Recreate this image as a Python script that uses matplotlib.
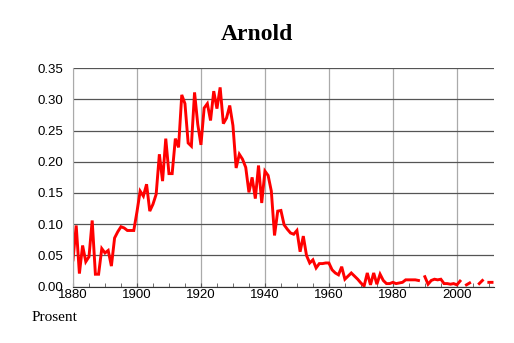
import numpy as np
import matplotlib.pyplot as plt
from matplotlib.ticker import MultipleLocator

plt.rcParams['font.family'] = ['Liberation Sans', 'DejaVu Sans']

# datos (fraccion en porcentaje, por año)
years = np.arange(1880, 2012)
nan = np.nan
prosent = [
    0.043, 0.098, 0.021, 0.066, 0.040, 0.048, 0.106, 0.020, 0.020, 0.061,  # 1880
    0.054, 0.058, 0.033, 0.078, 0.088, 0.096, 0.094, 0.090, 0.090, 0.090,  # 1890
    0.120, 0.153, 0.145, 0.164, 0.121, 0.132, 0.148, 0.212, 0.169, 0.237,  # 1900
    0.181, 0.181, 0.237, 0.223, 0.307, 0.293, 0.230, 0.225, 0.311, 0.260,  # 1910
    0.227, 0.286, 0.293, 0.266, 0.313, 0.285, 0.319, 0.261, 0.270, 0.290,  # 1920
    0.258, 0.190, 0.212, 0.204, 0.191, 0.151, 0.175, 0.141, 0.194, 0.134,  # 1930
    0.185, 0.178, 0.153, 0.082, 0.121, 0.122, 0.099, 0.092, 0.086, 0.084,  # 1940
    0.090, 0.056, 0.081, 0.050, 0.038, 0.043, 0.030, 0.037, 0.037, 0.038,  # 1950
    0.038, 0.027, 0.022, 0.019, 0.032, 0.012, 0.017, 0.022, 0.017, 0.012,  # 1960
    0.006, 0.001, 0.022, 0.003, 0.022, 0.004, 0.020, 0.010, 0.005, 0.005,  # 1970
    0.007, 0.005, 0.006, 0.007, 0.011, 0.011, 0.011, 0.011, 0.010, nan,    # 1980
    0.016, 0.004, 0.010, 0.012, 0.011, 0.012, 0.005, 0.005, 0.004, 0.005,  # 1990
    0.003, 0.009, nan, 0.003, 0.006, nan, nan, 0.005, 0.010, nan,          # 2000
    0.007, 0.007,                                                          # 2010
]
prosent = np.array(prosent)

fig = plt.figure(figsize=(5.14, 3.43), dpi=100)
ax = fig.add_axes([0.1414, 0.1641, 0.8196, 0.6376])

ax.plot(years, prosent, color='red', lw=2.1, solid_joinstyle='miter')

ax.set_xlim(1879.9, 2011.6)
ax.set_ylim(0, 0.35)
ax.set_yticks(np.arange(0, 0.351, 0.05))
ax.set_yticklabels([f'{v:.2f}' for v in np.arange(0, 0.351, 0.05)])
ax.xaxis.set_major_locator(MultipleLocator(20))
ax.xaxis.set_minor_locator(MultipleLocator(5))

# grilla
ax.grid(axis='y', color='#555555', lw=0.9)
ax.grid(axis='x', which='major', color='#aaaaaa', lw=0.9)
ax.set_axisbelow(True)

for s in ['top', 'right']:
    ax.spines[s].set_visible(False)
ax.spines['left'].set_color('#aaaaaa')
ax.spines['bottom'].set_color('#333333')

ax.tick_params(axis='x', which='both', direction='in', length=3, color='#555555',
               labelsize=9.5, pad=1.5)
ax.tick_params(axis='y', length=0, labelsize=9.5, pad=7)

fig.text(0.5, 0.9, 'Arnold', ha='center', va='center',
         family='Liberation Serif', fontweight='bold', fontsize=17)
fig.text(0.062, 0.073, 'Prosent', ha='left', va='center',
         family='Liberation Serif', fontsize=11)

fig.savefig('out.png', dpi=100)
